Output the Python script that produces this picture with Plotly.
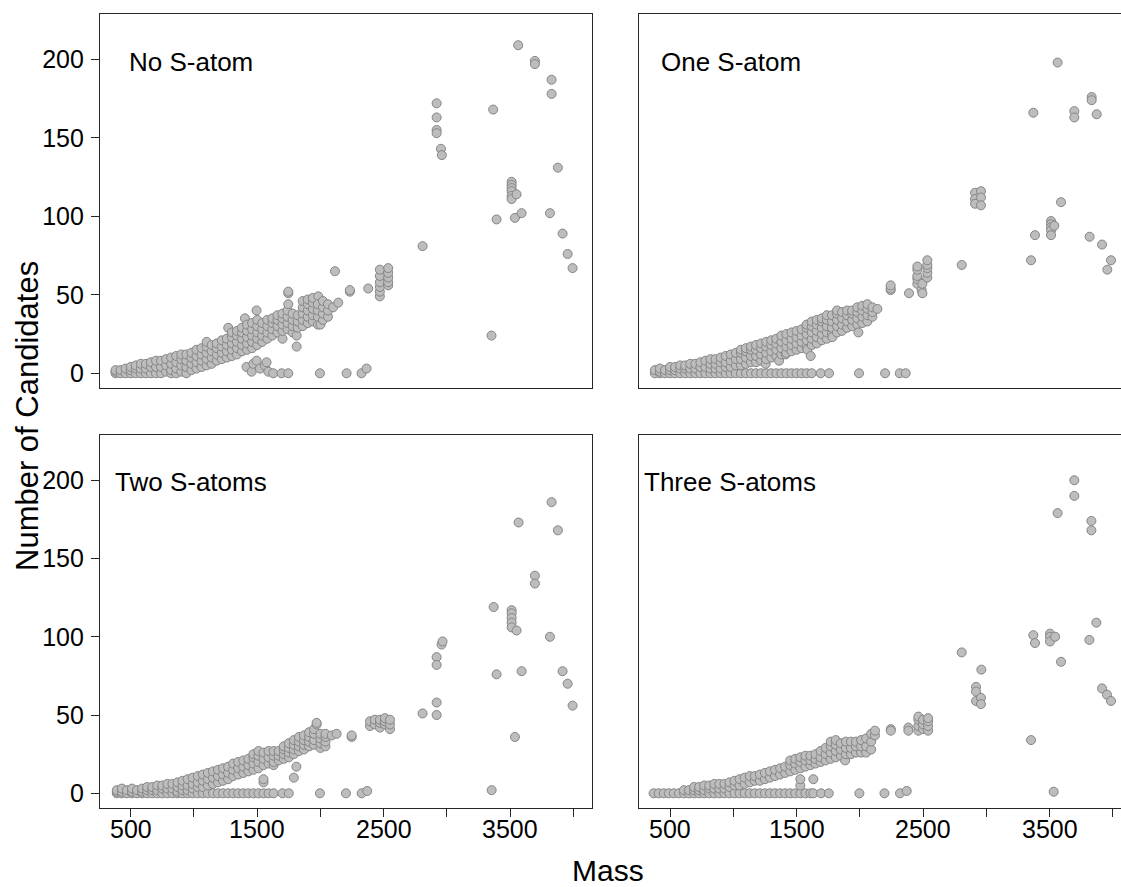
import plotly.graph_objects as go

# ---------------- data (mass -> candidate counts) ----------------
no_s_mass = [380, 420, 460, 500, 540, 580, 620, 660, 700, 740, 780, 820, 860, 900, 940, 980,
             1020, 1060, 1100, 1140, 1180, 1220, 1260, 1271, 1300, 1340, 1380, 1403, 1416, 1420,
             1456, 1460, 1469, 1495, 1500, 1522, 1540, 1561, 1574, 1580, 1588, 1620, 1627, 1660,
             1693, 1700, 1740, 1746, 1780, 1812, 1820, 1860, 1900, 1940, 1983, 1980, 1996, 2000,
             2020, 2060, 2100, 2115, 2141, 2207, 2233, 2325, 2365, 2378, 2470, 2536,
             2808, 2919, 2953, 2960, 3353, 3366, 3393, 3512, 3538, 3551, 3564, 3591, 3696,
             3815, 3828, 3878, 3915, 3955, 3994]
no_s_cand = [[0, 1, 2], [0, 2], [0, 3], [0, 2, 4], [0, 3, 5], [0, 3, 6], [0, 3, 6], [0, 4, 7],
             [0, 4, 8], [0, 4, 8], [1, 5, 9], [0, 2, 6, 10], [0, 3, 7, 11], [1, 5, 9, 12],
             [0, 4, 8, 12], [2, 6, 10, 13], [3, 7, 11, 15], [4, 8, 12, 16], [5, 9, 13, 17, 20],
             [6, 10, 14, 18], [8, 12, 16, 19], [9, 13, 17, 21], [10, 14, 18, 22], [29],
             [11, 15, 19, 23, 26], [12, 16, 20, 24, 27], [14, 18, 22, 26, 29], [35], [4],
             [15, 19, 23, 27, 31], [1], [16, 20, 24, 28, 32], [6], [8, 40], [18, 22, 26, 30, 34],
             [3], [20, 24, 28, 32], [5], [7], [22, 26, 30, 34], [1], [24, 28, 32, 35], [0],
             [26, 30, 34, 37], [0], [22, 27, 31, 35, 38], [28, 32, 36, 40], [0, 44, 51, 52],
             [26, 30, 34, 38], [17, 24], [29, 33, 37], [30, 34, 38, 42, 46], [32, 36, 40, 44, 47],
             [33, 37, 41, 45, 48], [49], [31, 36, 40, 44], [0], [31], [34, 38, 42, 46],
             [36, 40, 44], [42], [65], [45], [0], [52, 53], [0], [3], [54],
             [49, 52, 55, 58, 62, 66], [56, 58, 61, 64, 67],
             [81], [172, 163, 155, 153], [143], [139], [24], [168], [98],
             [122, 120, 118, 116, 113, 111], [99], [114], [209], [102], [199, 197],
             [102], [187, 178], [131], [89], [76], [67]]

one_s_mass = [380, 420, 460, 500, 540, 580, 620, 660, 700, 740, 780, 820, 860, 900, 940, 980,
              1020, 1060, 1100, 1140, 1180, 1220, 1256, 1260, 1300, 1340, 1362, 1380, 1414, 1420,
              1460, 1500, 1540, 1580, 1586, 1612, 1620, 1660, 1691, 1700, 1740, 1757, 1780, 1783,
              1820, 1860, 1900, 1940, 1980, 1989, 1994, 2020, 2060, 2100, 2139, 2200, 2244, 2316,
              2363, 2389, 2455, 2489, 2495, 2534,
              2806, 2911, 2958, 3354, 3372, 3385, 3512, 3538, 3564, 3591, 3696, 3817, 3833,
              3873, 3915, 3957, 3986]
one_s_cand = [[0, 2], [0, 1, 3], [0, 2], [0, 2, 4], [0, 2, 4], [0, 3, 5], [0, 3, 5], [0, 3, 6],
              [0, 3, 6], [0, 4, 7], [0, 4, 8], [0, 3, 6, 9], [0, 3, 6, 9], [0, 3, 7, 10],
              [0, 4, 7, 11], [0, 4, 8, 12], [0, 5, 9, 13], [0, 5, 9, 13, 15], [0, 6, 10, 14, 16],
              [0, 7, 11, 15, 17], [0, 7, 11, 15, 18], [0, 8, 12, 16, 19], [6], [0, 9, 13, 17, 20],
              [0, 10, 14, 18, 21], [0, 11, 15, 19, 22], [8], [0, 12, 16, 20, 24], [12],
              [0, 13, 17, 21, 25], [0, 14, 18, 22, 26], [0, 15, 19, 23, 27], [0, 16, 20, 24, 28],
              [0, 17, 21, 25, 29, 31], [15], [11], [0, 18, 22, 26, 30, 33], [19, 23, 27, 31, 34],
              [0], [21, 25, 29, 33, 35], [22, 26, 30, 34, 37], [0], [25, 29, 33, 37], [23],
              [26, 30, 34, 38, 40], [27, 31, 35, 39], [29, 33, 37, 40], [30, 34, 38, 40],
              [31, 35, 39, 42], [26], [0], [32, 36, 40, 43], [33, 37, 41, 44], [36, 39, 42], [41],
              [0], [53, 54, 56], [0], [0], [51], [57, 60, 62, 66, 68], [53], [51, 57],
              [61, 64, 67, 69, 72],
              [69], [115, 111, 108], [116, 112, 107], [72], [166], [88], [97, 95, 93, 91, 88],
              [94], [198], [109], [167, 163], [87], [176, 174], [165], [82], [66], [72]]

two_s_mass = [390, 430, 470, 510, 550, 590, 630, 670, 710, 750, 790, 830, 870, 910, 950, 990,
              1030, 1070, 1110, 1150, 1190, 1230, 1270, 1310, 1350, 1390, 1430, 1470, 1510, 1550,
              1590, 1630, 1670, 1700, 1710, 1750, 1790, 1810, 1830, 1870, 1910, 1950, 1970, 1996,
              2000, 2040, 2090, 2128, 2202, 2247, 2326, 2370, 2392, 2430, 2471, 2510, 2550,
              2808, 2919, 2958, 2966, 3354, 3370, 3393, 3512, 3538, 3551, 3567, 3591, 3696,
              3815, 3828, 3878, 3915, 3955, 3994]
two_s_cand = [[0, 1, 2], [0, 1, 3], [0, 2], [0, 1, 3], [0, 2], [0, 1, 3], [0, 2, 4], [0, 2, 4],
              [0, 2, 5], [0, 3, 5], [0, 3, 6], [0, 3, 6], [0, 1, 4, 7], [0, 2, 5, 8], [0, 2, 5, 9],
              [0, 3, 6, 10], [0, 4, 7, 11], [0, 4, 8, 12], [0, 5, 9, 13], [0, 6, 10, 14],
              [0, 7, 11, 15], [0, 8, 12, 16], [0, 9, 13, 17], [0, 11, 15, 19], [0, 12, 16, 20],
              [0, 13, 17, 21], [0, 14, 18, 22], [0, 15, 19, 23, 25], [0, 16, 20, 24, 27],
              [0, 7, 9, 18, 22, 26], [0, 19, 23, 27], [0, 18, 20, 24, 27], [21, 24, 27], [0],
              [22, 25, 28, 30], [0, 23, 26, 29, 32], [10, 25, 28, 31, 34], [17], [27, 30, 33, 36],
              [28, 31, 34, 37], [30, 33, 36, 39], [31, 34, 38, 41], [44, 45], [0],
              [29, 32, 35, 38], [30, 33, 36, 38], [37], [38], [0], [36, 37], [0], [1.5],
              [43, 46], [44, 47], [42, 45, 47], [44, 46, 48], [41, 44, 47],
              [51], [87, 82, 58, 50], [95], [97], [2], [119], [76], [117, 115, 112, 109, 106],
              [36], [104], [173], [78], [139, 134], [100], [186], [168], [78], [70], [56]]

three_s_mass = [370, 410, 450, 490, 530, 570, 610, 650, 690, 730, 770, 810, 850, 890, 930, 970,
                1010, 1050, 1090, 1130, 1170, 1210, 1250, 1290, 1330, 1370, 1410, 1450, 1490,
                1530, 1570, 1610, 1633, 1650, 1694, 1690, 1730, 1755, 1770, 1810, 1850, 1884,
                1890, 1930, 1970, 1997, 2010, 2050, 2090, 2120, 2195, 2245, 2318, 2371, 2384,
                2463, 2500, 2540,
                2806, 2919, 2958, 2961, 3354, 3372, 3385, 3504, 3533, 3544, 3564, 3591, 3696,
                3815, 3831, 3870, 3915, 3954, 3986]
three_s_cand = [[0], [0], [0], [0], [0], [0], [0, 2], [0, 2], [0, 2, 4], [0, 2, 4], [0, 2, 5],
                [0, 3, 5], [0, 3, 6], [0, 3, 6], [0, 3, 6], [0, 4, 7], [0, 5, 8], [0, 5, 9],
                [0, 6, 10], [0, 7, 11], [0, 8, 11], [0, 8, 12], [0, 9, 13], [0, 10, 14],
                [0, 11, 15], [0, 12, 16], [0, 13, 17], [0, 14, 18, 21], [0, 15, 19, 22],
                [0, 5, 9, 16, 20, 23], [0, 17, 21, 24], [0, 18, 21, 24], [0, 9], [19, 22, 25],
                [0], [20, 23, 27], [21, 25, 29], [0], [22, 26, 30, 33], [23, 27, 31, 34],
                [24, 28, 32], [21], [25, 29, 33], [25, 29, 33], [26, 30, 33], [0], [26, 30, 34],
                [26, 30, 35], [28, 33, 38], [37, 40], [0], [41, 40], [0], [1.5], [42, 40],
                [40, 43, 47, 49], [41, 44, 47], [40, 43, 46, 48],
                [90], [68, 65, 59], [61, 57], [79], [34], [101], [96], [102, 100, 97], [1],
                [100], [179], [84], [200, 190], [98], [174, 168], [109], [67], [63], [59]]

panel_labels = ["No S-atom", "One S-atom", "Two S-atoms", "Three S-atoms"]
x_tick_vals = [500, 1000, 1500, 2000, 2500, 3000, 3500, 4000]
x_tick_text = ["500", "", "1500", "", "2500", "", "3500", ""]
y_tick_vals = [0, 50, 100, 150, 200]

# ---------------- figure ----------------
W, H = 1121, 887
FONT = "Arial, 'Liberation Sans', sans-serif"
LINE = "#262626"


def flatten(masses, cands):
    xs, ys = [], []
    for m, vs in zip(masses, cands):
        for v in vs:
            xs.append(m)
            ys.append(v)
    return xs, ys


datasets = [(no_s_mass, no_s_cand), (one_s_mass, one_s_cand),
            (two_s_mass, two_s_cand), (three_s_mass, three_s_cand)]

fig = go.Figure()
for i, (m, c) in enumerate(datasets):
    xs, ys = flatten(m, c)
    sfx = "" if i == 0 else str(i + 1)
    fig.add_trace(go.Scatter(
        x=xs, y=ys, mode="markers", xaxis="x" + sfx, yaxis="y" + sfx,
        marker=dict(size=9, color="#BDBDBD", line=dict(color="#858585", width=1)),
        showlegend=False, hoverinfo="x+y"))

xdom_left = [100 / W, 592.3 / W]
xdom_right = [639.3 / W, 1.0]
ydom_top = [1 - 387.7 / H, 1 - 14 / H]
ydom_bot = [1 - 807.7 / H, 1 - 435 / H]
x_range_left = [257, 4150]
x_range_right = [257, 4065]
y_range = [-9.2, 228.9]

layout = dict(
    width=W, height=H, margin=dict(l=0, r=0, t=0, b=0, pad=0),
    paper_bgcolor="white", plot_bgcolor="white", template="none",
    font=dict(family=FONT, size=25, color="black"),
)

annotations = []
specs = [
    ("", xdom_left, ydom_top, x_range_left, True, False),
    ("2", xdom_right, ydom_top, x_range_right, False, False),
    ("3", xdom_left, ydom_bot, x_range_left, True, True),
    ("4", xdom_right, ydom_bot, x_range_right, False, True),
]
for sfx, xd, yd, xr, left, bottom in specs:
    xa = dict(domain=xd, range=xr, anchor="y" + sfx, showgrid=False, zeroline=False,
              showline=True, mirror=True, linecolor=LINE, linewidth=1.2,
              automargin=False, fixedrange=True, showticklabels=False)
    if bottom:
        xa.update(tickmode="array", tickvals=x_tick_vals,
                  ticks="outside", ticklen=8, tickwidth=1.2, tickcolor=LINE)
        # tick labels placed as text just under the tick marks
        for v, t in zip(x_tick_vals, x_tick_text):
            if t:
                annotations.append(dict(text=t, x=v, xref="x" + sfx, y=1 - 828.5 / H,
                                        yref="paper", xanchor="center", yanchor="middle",
                                        showarrow=False,
                                        font=dict(size=25, family=FONT, color="black")))
    else:
        xa.update(ticks="")
    ya = dict(domain=yd, range=y_range, anchor="x" + sfx, showgrid=False, zeroline=False,
              showline=True, mirror=left, linecolor=LINE, linewidth=1.2,
              automargin=False, fixedrange=True)
    if left:
        ya.update(tickmode="array", tickvals=y_tick_vals, ticks="outside", ticklen=8,
                  tickwidth=1.2, tickcolor=LINE, showticklabels=True,
                  tickfont=dict(size=25, family=FONT, color="black"), ticklabelstandoff=2)
    else:
        ya.update(ticks="", showticklabels=False)
    layout["xaxis" + sfx] = xa
    layout["yaxis" + sfx] = ya

label_pos = [(127, 62), (659, 62), (113, 482), (642, 482)]
for text, (px, py) in zip(panel_labels, label_pos):
    annotations.append(dict(text=text, x=px / W, y=1 - py / H, xref="paper", yref="paper",
                            xanchor="left", yanchor="middle", showarrow=False,
                            font=dict(size=26, family=FONT, color="black")))
annotations.append(dict(text="Mass", x=608 / W, y=1 - 870 / H, xref="paper", yref="paper",
                        xanchor="center", yanchor="middle", showarrow=False,
                        font=dict(size=30, family=FONT, color="black")))
annotations.append(dict(text="Number of Candidates", x=27 / W, y=1 - 416 / H, xref="paper",
                        yref="paper", xanchor="center", yanchor="middle", showarrow=False,
                        textangle=-90, font=dict(size=31, family=FONT, color="black")))
layout["annotations"] = annotations

fig.update_layout(**layout)
fig.write_html("out.html", config={"displayModeBar": False},
               post_script="document.body.style.margin='0px';document.body.style.overflow='hidden';")
